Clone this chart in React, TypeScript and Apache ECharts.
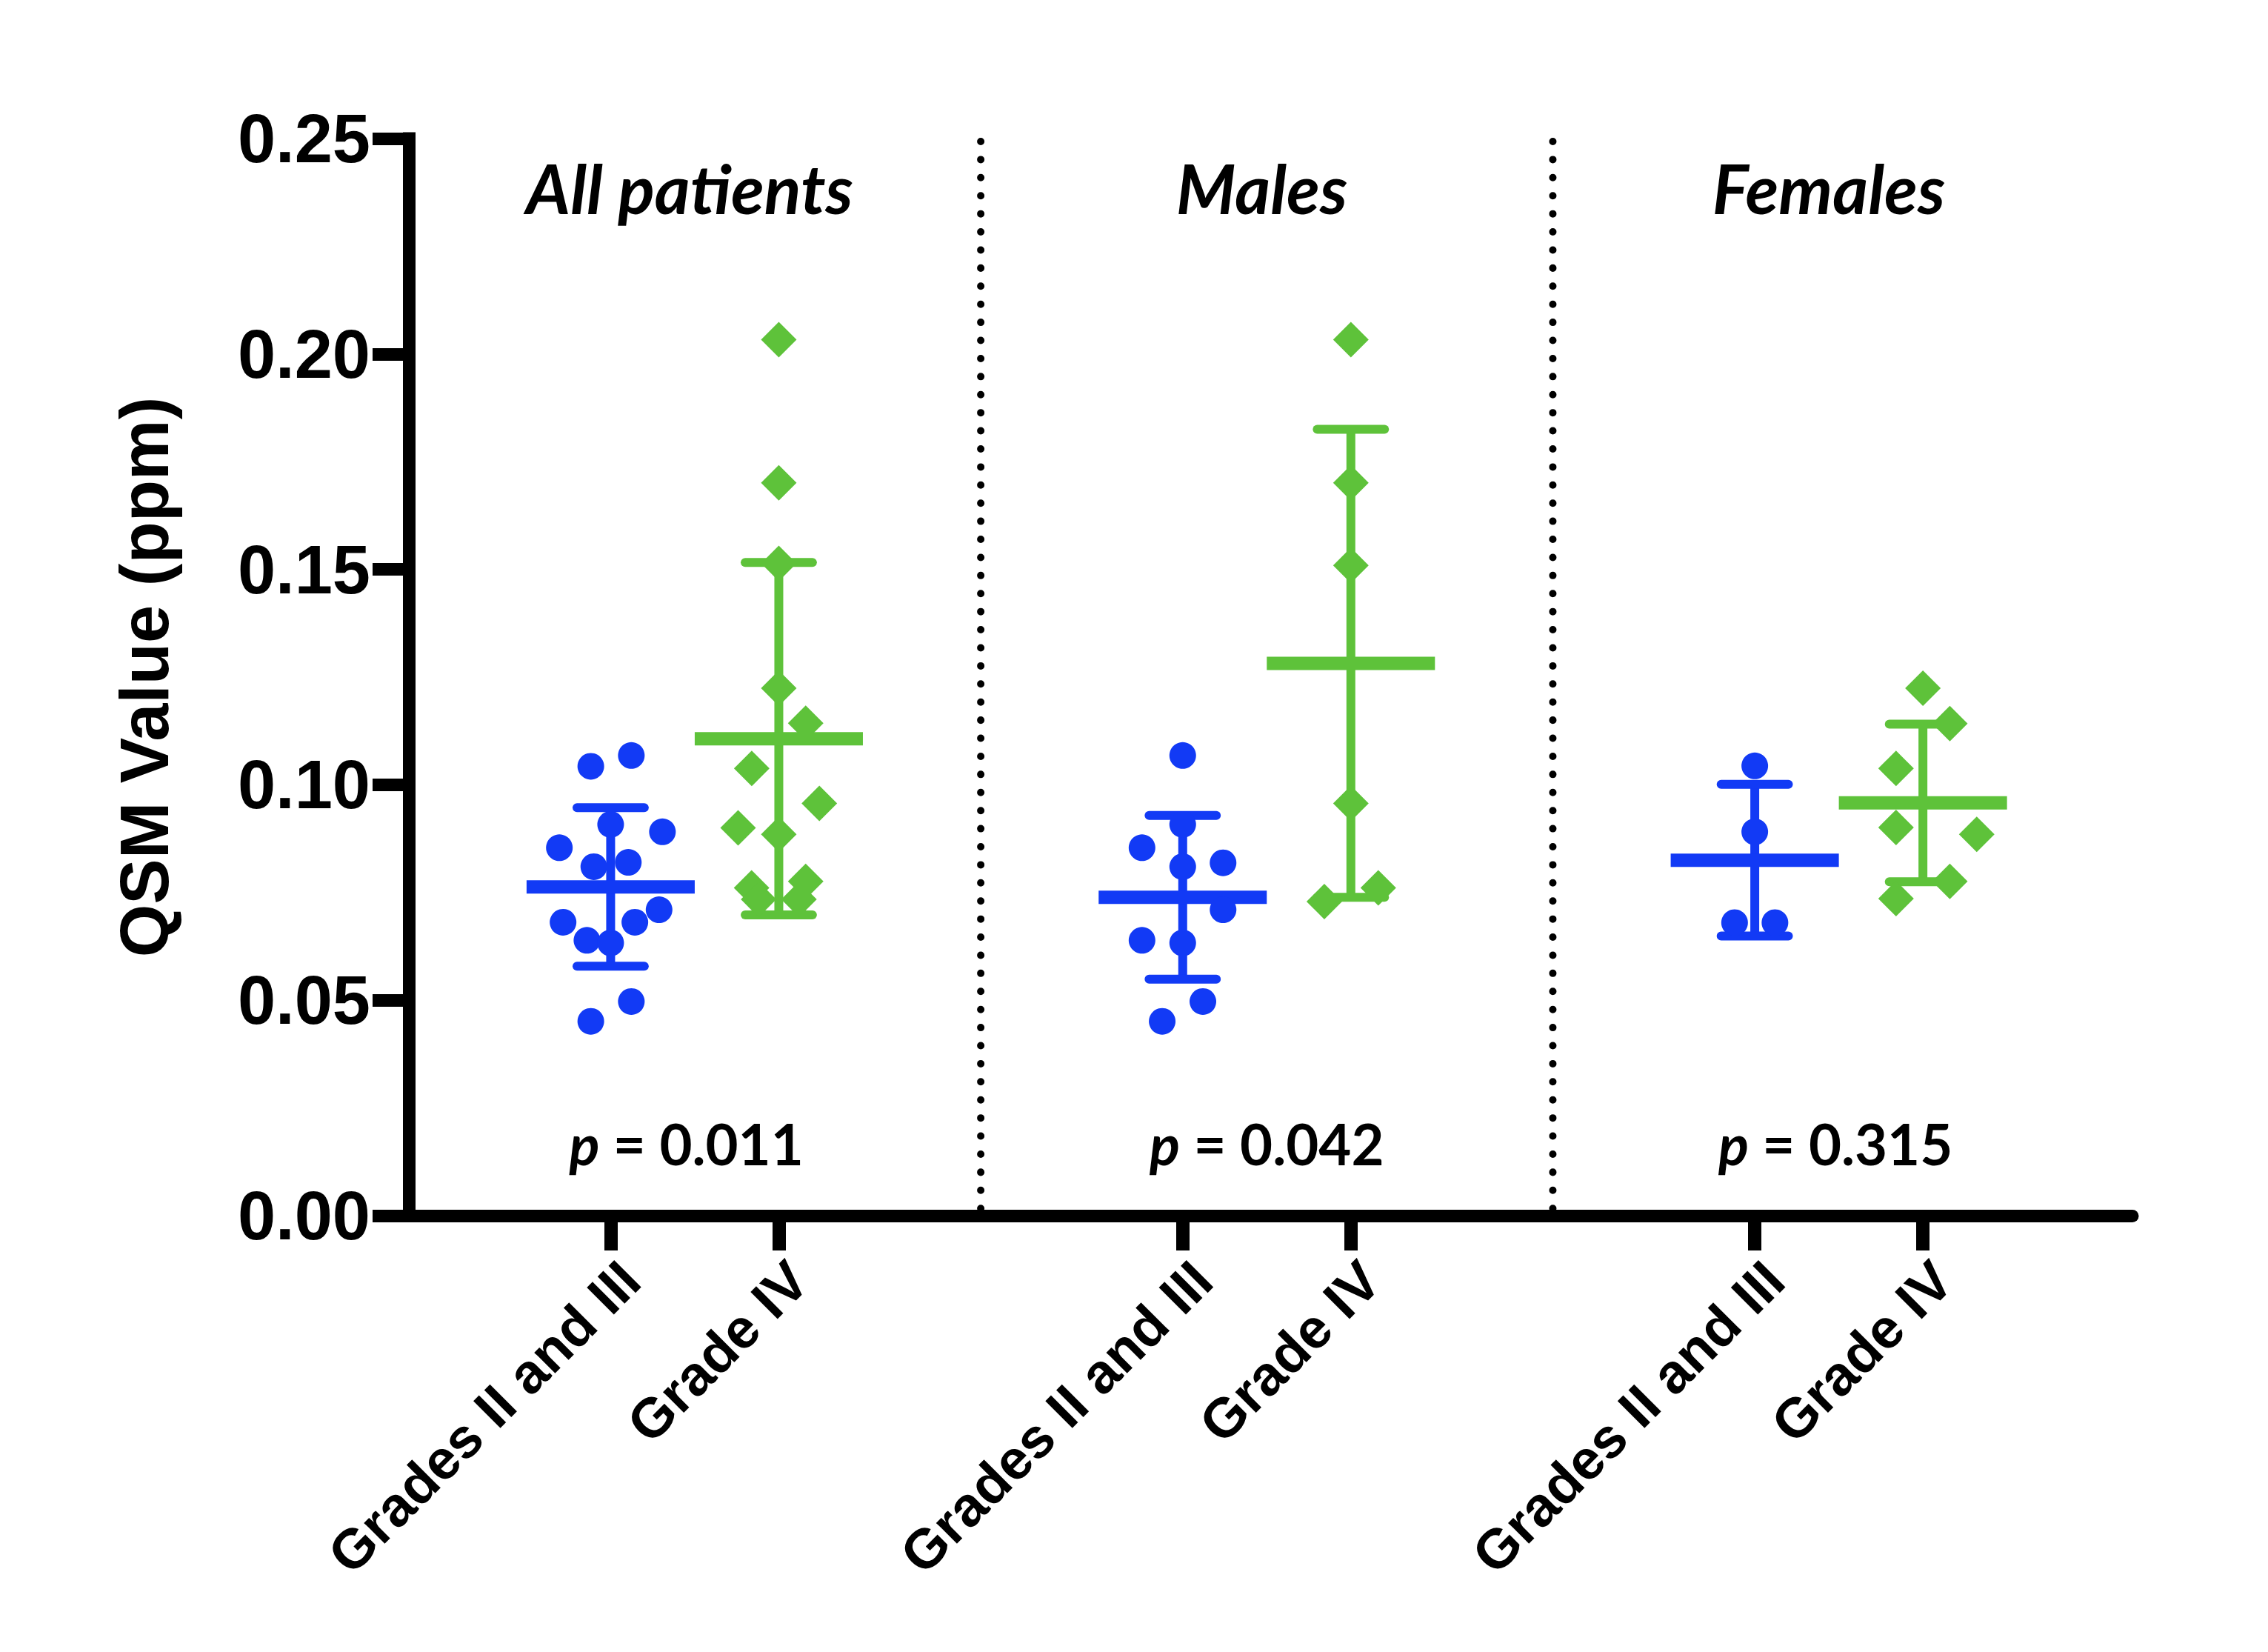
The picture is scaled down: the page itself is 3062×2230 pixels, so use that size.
import React, { useEffect, useRef } from 'react';
import * as echarts from 'echarts';

// ---- data ----
const groupTitles = ['All patients', 'Males', 'Females'];
const gradeLabels = ['Grades II and III', 'Grade IV'];
const pValues = ['0.011', '0.042', '0.315'];
const yTicks = [0, 0.05, 0.1, 0.15, 0.2, 0.25];

// QSM values (ppm) and horizontal scatter offsets (in category widths)
const allLow = [0.1043, 0.1068, 0.0908, 0.0891, 0.0854, 0.081, 0.082, 0.0681, 0.0681, 0.071, 0.0639, 0.0633, 0.0497, 0.0451];
const allLowJitter = [-0.118, 0.123, 0, 0.308, -0.305, -0.1, 0.105, -0.283, 0.144, 0.288, -0.141, 0, 0.123, -0.118];
const allHigh = [0.2033, 0.1701, 0.1514, 0.1224, 0.1143, 0.1038, 0.0957, 0.09, 0.0885, 0.0776, 0.0761, 0.0734, 0.0734];
const allHighJitter = [0, 0, 0, 0, 0.16, -0.161, 0.241, -0.242, 0, 0.16, -0.162, -0.12, 0.12];

const maleLow = [0.1068, 0.0908, 0.0854, 0.0819, 0.081, 0.071, 0.0639, 0.0633, 0.0497, 0.0451];
const maleLowJitter = [0, 0, -0.242, 0.24, 0, 0.24, -0.242, 0, 0.12, -0.122];
const maleHigh = [0.2033, 0.1701, 0.1509, 0.0957, 0.0761, 0.0729];
const maleHighJitter = [0, 0, 0, 0, 0.163, -0.158];

const femaleLow = [0.1044, 0.0891, 0.068, 0.068];
const femaleLowJitter = [0, 0, -0.12, 0.12];
const femaleHigh = [0.1224, 0.1142, 0.1038, 0.0901, 0.0885, 0.0776, 0.0736];
const femaleHighJitter = [0, 0.16, -0.16, -0.16, 0.32, 0.16, -0.16];

// mean and SD per group: [Grades II and III, Grade IV]
const groupMeans = [[0.0763, 0.1107], [0.0739, 0.1282], [0.0825, 0.0958]];
const groupSDs = [[0.0184, 0.0409], [0.019, 0.0543], [0.0176, 0.0183]];

const lowSets = [allLow, maleLow, femaleLow];
const lowJitters = [allLowJitter, maleLowJitter, femaleLowJitter];
const highSets = [allHigh, maleHigh, femaleHigh];
const highJitters = [allHighJitter, maleHighJitter, femaleHighJitter];

// ---- layout ----
const BLUE = '#123AF5';
const GREEN = '#5EC23A';
const FIRST = 1.2;
const GROUP_STEP = 3.402;
const X_MAX = 10.25;
const TITLE_Y = 0.2386;
const P_Y = 0.0168;
const TITLE_SHIFT = [-0.03, -0.03, -0.06];
const P_SHIFT = [-0.05, 0.0, -0.02];
const pos = (g: number, k: number) => FIRST + g * GROUP_STEP + k;

const tickPositions: number[] = [];
const tickNames: string[] = [];
groupTitles.forEach((_, g) => {
  gradeLabels.forEach((lab, k) => {
    tickPositions.push(pos(g, k));
    tickNames.push(lab);
  });
});

const AXIS_FONT = 'Liberation Sans';
const TEXT_FONT = 'Lato';

export default function App() {
  const ref = useRef<HTMLDivElement>(null);
  useEffect(() => {
    if (!ref.current) return;
    const chart = echarts.init(ref.current, undefined, { renderer: 'svg' });

    const lowData: number[][] = [];
    const highData: number[][] = [];
    lowSets.forEach((set, g) => set.forEach((v, i) => lowData.push([pos(g, 0) + lowJitters[g][i], v])));
    highSets.forEach((set, g) => set.forEach((v, i) => highData.push([pos(g, 1) + highJitters[g][i], v])));

    const barData: number[][] = [];
    groupMeans.forEach((ms, g) => ms.forEach((m, k) => barData.push([pos(g, k), m, groupSDs[g][k], k])));

    const sepData: number[][] = [];
    for (let g = 0; g < groupTitles.length - 1; g++) sepData.push([(pos(g, 1) + pos(g + 1, 0)) / 2]);

    const textData = groupTitles.map((_, g) => [pos(g, 0) + 0.5, g]);

    const option: any = {
      animation: false,
      backgroundColor: '#ffffff',
      grid: { left: 552, right: 183, top: 187, bottom: 589, containLabel: false },
      xAxis: {
        type: 'value',
        min: 0,
        max: X_MAX,
        splitLine: { show: false },
        axisLine: { show: true, onZero: false, lineStyle: { color: '#000', width: 17 } },
        axisTick: { show: true, length: 47, customValues: tickPositions, lineStyle: { color: '#000', width: 18 } },
        axisLabel: {
          show: true,
          customValues: tickPositions,
          rotate: 45,
          align: 'right',
          verticalAlign: 'top',
          margin: 48,
          color: '#000',
          fontFamily: AXIS_FONT,
          fontWeight: 'bold',
          fontSize: 75,
          formatter: (v: number) => {
            let best = 0;
            tickPositions.forEach((p, i) => { if (Math.abs(p - v) < Math.abs(tickPositions[best] - v)) best = i; });
            return tickNames[best];
          },
        },
      },
      yAxis: {
        type: 'value',
        min: 0,
        max: 0.25,
        interval: 0.05,
        splitLine: { show: false },
        name: 'QSM Value (ppm)',
        nameLocation: 'middle',
        nameRotate: 90,
        nameGap: 311,
        nameTextStyle: { color: '#000', fontFamily: AXIS_FONT, fontWeight: 'bold', fontSize: 92 },
        axisLine: { show: true, onZero: false, lineStyle: { color: '#000', width: 17, cap: 'square' } },
        axisTick: { show: true, length: 49, lineStyle: { color: '#000', width: 17 } },
        axisLabel: {
          margin: 52,
          color: '#000',
          fontFamily: AXIS_FONT,
          fontWeight: 'bold',
          fontSize: 92,
          formatter: (v: number) => {
            const t = yTicks.find((y) => Math.abs(y - v) < 1e-9);
            return (t === undefined ? v : t).toFixed(2);
          },
        },
      },
      series: [
        {
          type: 'custom',
          name: 'separators',
          z: 1,
          data: sepData,
          renderItem: (params: any, api: any) => {
            const x = api.value(0);
            const a = api.coord([x, 0.25]);
            const b = api.coord([x, 0]);
            return {
              type: 'line',
              shape: { x1: a[0], y1: a[1] + 4, x2: b[0], y2: b[1] - 8 },
              style: { stroke: '#000', lineWidth: 10, lineDash: [0.01, 24.4], lineCap: 'round' },
            };
          },
        },
        {
          type: 'custom',
          name: 'mean ± SD',
          z: 2,
          data: barData,
          renderItem: (params: any, api: any) => {
            const x = api.value(0);
            const m = api.value(1);
            const s = api.value(2);
            const color = api.value(3) === 0 ? BLUE : GREEN;
            const top = api.coord([x, m + s]);
            const bot = api.coord([x, m - s]);
            const mid = api.coord([x, m]);
            const unit = api.size([1, 0])[0];
            const capHalf = 0.2 * unit;
            const meanHalf = 0.5 * unit;
            return {
              type: 'group',
              children: [
                { type: 'line', shape: { x1: top[0], y1: top[1], x2: bot[0], y2: bot[1] }, style: { stroke: color, lineWidth: 12 } },
                { type: 'line', shape: { x1: top[0] - capHalf, y1: top[1], x2: top[0] + capHalf, y2: top[1] }, style: { stroke: color, lineWidth: 12, lineCap: 'round' } },
                { type: 'line', shape: { x1: bot[0] - capHalf, y1: bot[1], x2: bot[0] + capHalf, y2: bot[1] }, style: { stroke: color, lineWidth: 12, lineCap: 'round' } },
                { type: 'line', shape: { x1: mid[0] - meanHalf, y1: mid[1], x2: mid[0] + meanHalf, y2: mid[1] }, style: { stroke: color, lineWidth: 18, lineCap: 'butt' } },
              ],
            };
          },
        },
        {
          type: 'scatter',
          name: gradeLabels[0],
          z: 3,
          symbol: 'circle',
          symbolSize: 36,
          itemStyle: { color: BLUE, opacity: 1 },
          data: lowData,
        },
        {
          type: 'scatter',
          name: gradeLabels[1],
          z: 3,
          symbol: 'diamond',
          symbolSize: 48,
          itemStyle: { color: GREEN, opacity: 1 },
          data: highData,
        },
        {
          type: 'custom',
          name: 'annotations',
          z: 4,
          data: textData,
          renderItem: (params: any, api: any) => {
            const x = api.value(0);
            const g = api.value(1);
            const t = api.coord([x + TITLE_SHIFT[g], TITLE_Y]);
            const p = api.coord([x + P_SHIFT[g], P_Y]);
            return {
              type: 'group',
              children: [
                {
                  type: 'text',
                  x: t[0],
                  y: t[1],
                  style: {
                    text: groupTitles[g],
                    fill: '#000',
                    fontFamily: TEXT_FONT,
                    fontWeight: 'bold',
                    fontStyle: 'italic',
                    fontSize: 92,
                    align: 'center',
                    verticalAlign: 'middle',
                  },
                },
                {
                  type: 'text',
                  x: p[0],
                  y: p[1],
                  style: {
                    text: '{i|p} = ' + pValues[g],
                    fill: '#000',
                    fontFamily: TEXT_FONT,
                    fontWeight: 'bold',
                    fontSize: 76,
                    align: 'center',
                    verticalAlign: 'middle',
                    rich: {
                      i: { fontFamily: TEXT_FONT, fontWeight: 'bold', fontStyle: 'italic', fontSize: 76, fill: '#000' },
                    },
                  },
                },
              ],
            };
          },
        },
      ],
    };
    chart.setOption(option);
    return () => chart.dispose();
  }, []);

  return (
    <div
      ref={ref}
      style={{ position: 'absolute', left: 0, top: 0, width: 3062, height: 2230, background: '#fff' }}
    />
  );
}
